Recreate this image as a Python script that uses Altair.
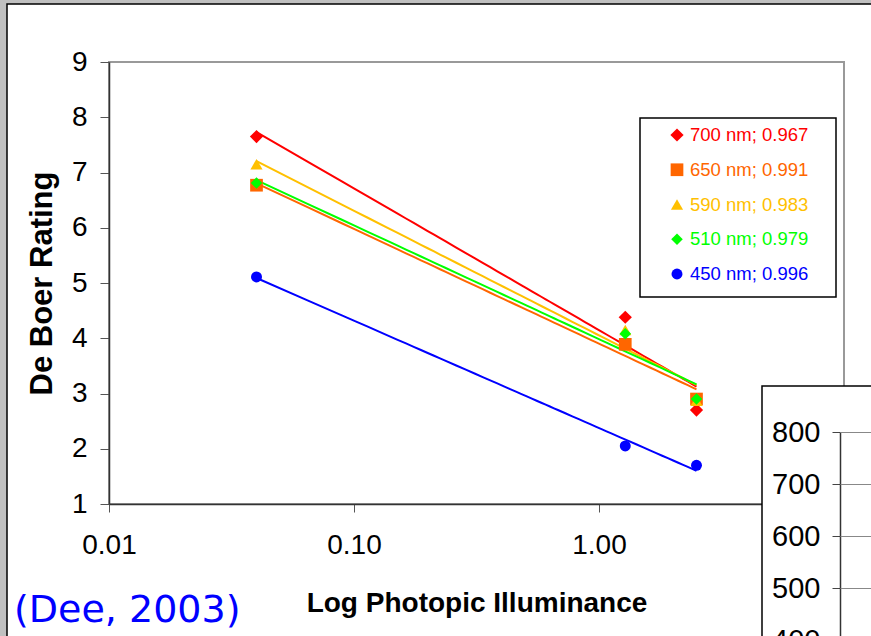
import altair as alt
import pandas as pd

# ---------------- data ----------------
illuminance = [0.04, 1.28, 2.5]
series_labels = ["700 nm; 0.967", "650 nm; 0.991", "590 nm; 0.983", "510 nm; 0.979", "450 nm; 0.996"]
rating_700 = [7.65, 4.38, 2.70]
rating_650 = [6.77, 3.89, 2.90]
rating_590 = [7.15, 4.15, 2.87]
rating_510 = [6.81, 4.08, 2.90]
rating_450 = [5.11, 2.05, 1.70]
series_colors = ["#FF0000", "#FF6600", "#FFC000", "#00FF00", "#0000FF"]
series_shapes = ["diamond", "square", "triangle-up", "diamond", "circle"]
series_sizes = [175, 120, 150, 175, 100]
x_ticks = [0.01, 0.1, 1]
y_ticks = [1, 2, 3, 4, 5, 6, 7, 8, 9]
inset_ticks = [800, 700, 600, 500, 400]
caption = ["(Dee, 2003)"]

ratings = [rating_700, rating_650, rating_590, rating_510, rating_450]
rows = []
for lab, vals in zip(series_labels, ratings):
    for xv, yv in zip(illuminance, vals):
        rows.append({"series": lab, "x": xv, "y": yv})
df = pd.DataFrame(rows)
one = pd.DataFrame({"k": [0]})
inset_df = pd.DataFrame({"v": inset_ticks})
cap_df = pd.DataFrame({"t": caption})
legend_df = pd.DataFrame({"series": series_labels})

FONT = "Liberation Sans"

x_enc = alt.X("x:Q",
              scale=alt.Scale(type="log", domain=[0.01, 10], nice=False),
              axis=alt.Axis(values=x_ticks, format=".2f", title="Log Photopic Illuminance",
                            labelFont=FONT, labelFontSize=28, labelColor="black", labelPadding=19,
                            labelFlush=False, tickSize=8, tickColor="#555555", domainColor="#333333",
                            domainWidth=1.5, grid=False, titleFont=FONT, titleFontSize=28,
                            titleFontWeight="bold", titleColor="black", titlePadding=30, zindex=0))
y_enc = alt.Y("y:Q",
              scale=alt.Scale(domain=[1, 9], nice=False, zero=False),
              axis=alt.Axis(values=y_ticks, title="De Boer Rating",
                            labelFont=FONT, labelFontSize=28, labelColor="black", labelPadding=13,
                            tickSize=9, tickColor="#555555", domainColor="#333333", domainWidth=1.5,
                            grid=False, titleFont=FONT, titleFontSize=31, titleFontWeight="bold",
                            titleColor="black", titlePadding=13, zindex=0))

color_scale = alt.Scale(domain=series_labels, range=series_colors)
shape_scale = alt.Scale(domain=series_labels, range=series_shapes)
size_scale = alt.Scale(domain=series_labels, range=series_sizes)

lines = alt.Chart(df).transform_regression(
    "x", "y", method="log", groupby=["series"]
).mark_line(strokeWidth=2).encode(
    x=x_enc, y=y_enc,
    stroke=alt.Stroke("series:N", scale=color_scale, legend=None),
    detail="series:N",
)

points = alt.Chart(df).mark_point(filled=True, opacity=1).encode(
    x=x_enc, y=y_enc,
    color=alt.Color("series:N", scale=color_scale, legend=None),
    shape=alt.Shape("series:N", scale=shape_scale, legend=None),
    size=alt.Size("series:N", scale=size_scale, legend=None),
)

main = alt.layer(lines, points)

# ---- legend (built from the same colour / shape scales) ----
legend_y = alt.Y("series:N", scale=alt.Scale(type="point", domain=series_labels, range=[73, 212], padding=0),
                 axis=None)
legend_box = alt.Chart(one).mark_rect(fill="white", stroke="black", strokeWidth=1.5).encode(
    x=alt.value(531), x2=alt.value(727), y=alt.value(56), y2=alt.value(235))
legend_sym = alt.Chart(legend_df).mark_point(filled=True, opacity=1).encode(
    x=alt.value(568), y=legend_y,
    color=alt.Color("series:N", scale=color_scale, legend=None),
    shape=alt.Shape("series:N", scale=shape_scale, legend=None),
    size=alt.Size("series:N", scale=size_scale, legend=None),
)
legend_txt = alt.Chart(legend_df).mark_text(align="left", baseline="middle", font=FONT, fontSize=18.5).encode(
    x=alt.value(581), y=legend_y, text="series:N",
    color=alt.Color("series:N", scale=color_scale, legend=None),
)

# frame of the slide
gray_left = alt.Chart(one).mark_rect(fill="#C0C0C0").encode(
    x=alt.value(-109), x2=alt.value(-102), y=alt.value(-62), y2=alt.value(700))
gray_top = alt.Chart(one).mark_rect(fill="#C0C0C0").encode(
    x=alt.value(-109), x2=alt.value(800), y=alt.value(-62), y2=alt.value(-58))
frame = alt.Chart(one).mark_rect(fill=None, stroke="black", strokeWidth=1.5).encode(
    x=alt.value(-102), x2=alt.value(800), y=alt.value(-58), y2=alt.value(700))

# inset box of the following chart
inset_box = alt.Chart(one).mark_rect(fill="white", stroke="black", strokeWidth=1.5).encode(
    x=alt.value(653), x2=alt.value(800), y=alt.value(324), y2=alt.value(700))

inset_scale = alt.Scale(domain=[400, 800], range=[578, 370], nice=False, zero=False)
inset_left = alt.Chart(inset_df).mark_point(opacity=0).encode(
    y=alt.Y("v:Q", scale=inset_scale,
            axis=alt.Axis(orient="left", offset=-731, values=inset_ticks, title=None,
                          labelFont=FONT, labelFontSize=29, labelColor="black", labelPadding=12,
                          tickSize=8, tickColor="#444444", domainColor="#333333", domainWidth=1.5,
                          grid=False, zindex=1, labelOverlap=False)))
inset_right = alt.Chart(inset_df).mark_point(opacity=0).encode(
    y=alt.Y("v:Q", scale=inset_scale,
            axis=alt.Axis(orient="right", offset=-4, values=inset_ticks, title=None,
                          labels=False, domain=False, tickSize=40, tickColor="#888888",
                          tickWidth=1, grid=False, zindex=1)))

cap = alt.Chart(cap_df).mark_text(align="left", baseline="alphabetic", font="DejaVu Sans",
                                  fontSize=38, color="#0000FF").encode(
    text="t:N", x=alt.value(-95), y=alt.value(560))

chart = alt.layer(
    gray_left, gray_top, frame, main, legend_box, legend_sym, legend_txt,
    inset_box, cap, inset_left, inset_right
).resolve_scale(
    y="independent"
).properties(
    width=735, height=442,
    autosize=alt.AutoSizeParams(type="none"),
    padding={"left": 109, "top": 62, "right": 27, "bottom": 132},
    background="white",
).configure_view(stroke="#999999", strokeWidth=2)

chart.save("out.html", embed_options={"renderer": "svg", "actions": False})
